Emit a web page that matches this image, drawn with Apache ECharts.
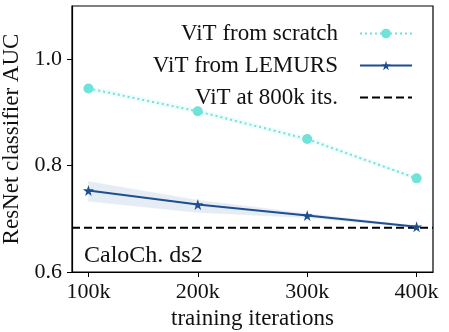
<!DOCTYPE html>
<html>
<head>
<meta charset="utf-8">
<script src="https://cdn.jsdelivr.net/npm/echarts@6/dist/echarts.min.js"></script>
<style>
  html, body { margin: 0; padding: 0; background: #fff; }
  #chart { width: 449px; height: 332px; }
</style>
</head>
<body>
<div id="chart"></div>
<script>
// training iterations (in thousands)
const iters = [100, 200, 300, 400];
const xTicks = [100, 200, 300, 400];
const yTicks = [0.6, 0.8, 1.0];

const scratch = [0.945, 0.902, 0.850, 0.776];
const scratchLow = [0.940, 0.897, 0.845, 0.772];
const scratchHigh = [0.950, 0.907, 0.855, 0.780];

const lemurs = [0.753, 0.727, 0.706, 0.685];
const lemursLow = [0.733, 0.712, 0.702, 0.683];
const lemursHigh = [0.770, 0.735, 0.710, 0.687];

const baseline = 0.683;

const FONT = 'Liberation Serif';
const INK = '#111';
const TEAL = '#6fe2d9';
const BLUE = '#1d4e8f';
const STAR = 'path://M50,0 L61,35 L98,35 L68,57 L79,91 L50,70 L21,91 L32,57 L2,35 L39,35 Z';

const pairs = (xs, ys) => xs.map((x, i) => [x, ys[i]]);

// shaded band between lo and hi, one quad per segment
function band(lo, hi, color) {
  return {
    type: 'custom', silent: true, z: 1,
    data: iters.slice(0, -1).map((x, i) => [x, lo[i], hi[i]]),
    renderItem: (params, api) => {
      const i = params.dataIndex;
      const pts = [
        api.coord([iters[i], lo[i]]),
        api.coord([iters[i + 1], lo[i + 1]]),
        api.coord([iters[i + 1], hi[i + 1]]),
        api.coord([iters[i], hi[i]])
      ];
      return { type: 'polygon', shape: { points: pts }, style: { fill: color, stroke: color, lineWidth: 0.5 } };
    }
  };
}

const chart = echarts.init(document.getElementById('chart'));

chart.setOption({
  animation: false,
  textStyle: { fontFamily: FONT, color: INK },
  grid: {
    left: 72, right: 16, top: 6, bottom: 60,
    outerBoundsMode: 'none', containLabel: false,
    show: true, borderColor: '#000', borderWidth: 1.2, backgroundColor: 'transparent'
  },
  title: {
    text: 'CaloCh. ds2',
    left: 79, top: 239,
    textStyle: { fontFamily: FONT, fontSize: 24, fontWeight: 'normal', color: INK }
  },
  legend: {
    orient: 'vertical',
    right: 31, top: 17,
    align: 'right',
    itemWidth: 52, itemHeight: 12, itemGap: 9,
    data: ['ViT from scratch', 'ViT from LEMURS', 'ViT at 800k its.'],
    textStyle: { fontFamily: FONT, fontSize: 23, color: INK, padding: [0, 17, 0, 0] }
  },
  xAxis: {
    type: 'value', min: 85, max: 415,
    name: 'training iterations', nameLocation: 'middle', nameGap: 30,
    nameTextStyle: { fontFamily: FONT, fontSize: 23, color: INK },
    axisLine: { show: true, lineStyle: { color: '#000', width: 1.2 } },
    axisTick: { show: true, customValues: xTicks, length: 5, lineStyle: { color: '#000' } },
    axisLabel: {
      customValues: xTicks, margin: 9, fontSize: 22, color: INK, fontFamily: FONT,
      formatter: v => v + 'k'
    },
    splitLine: { show: false }
  },
  yAxis: {
    type: 'value', min: 0.6, max: 1.1,
    name: 'ResNet classifier AUC', nameLocation: 'middle', nameGap: 45,
    nameTextStyle: { fontFamily: FONT, fontSize: 23, color: INK },
    axisLine: { show: true, lineStyle: { color: '#000', width: 1.2 } },
    axisTick: { show: true, customValues: yTicks, length: 5, lineStyle: { color: '#000' } },
    axisLabel: {
      customValues: yTicks, margin: 10, fontSize: 22, color: INK, fontFamily: FONT,
      formatter: v => v.toFixed(1)
    },
    splitLine: { show: false }
  },
  series: [
    band(scratchLow, scratchHigh, '#effcfb'),
    band(lemursLow, lemursHigh, '#e6ecf4'),
    {
      type: 'line', name: 'ViT at 800k its.', z: 3,
      data: [[85, baseline], [415, baseline]],
      symbol: 'none',
      lineStyle: { color: '#000', width: 2, type: [8, 4] },
      itemStyle: { color: 'rgba(0,0,0,0)' }
    },
    {
      type: 'line', name: 'ViT from scratch', z: 4,
      data: pairs(iters, scratch),
      symbol: 'circle', symbolSize: 10,
      lineStyle: { color: TEAL, width: 2, type: [2, 3] },
      itemStyle: { color: TEAL }
    },
    {
      type: 'line', name: 'ViT from LEMURS', z: 4,
      data: pairs(iters, lemurs),
      symbol: STAR, symbolSize: 11,
      lineStyle: { color: BLUE, width: 2 },
      itemStyle: { color: BLUE }
    }
  ]
});
</script>
</body>
</html>
